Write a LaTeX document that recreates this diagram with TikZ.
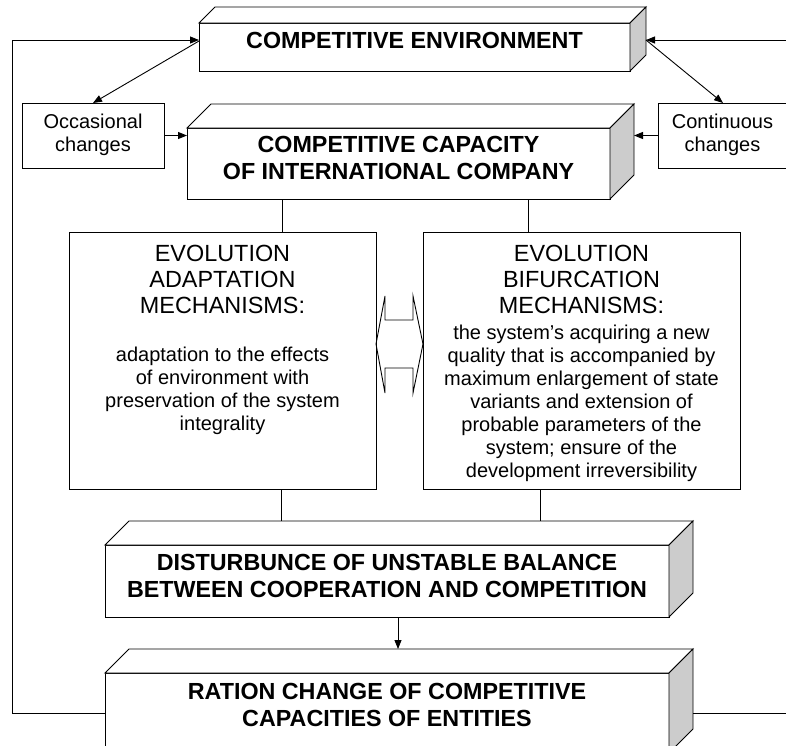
\documentclass[tikz,border=0pt]{standalone}
\usepackage{fontspec}
\setmainfont{Liberation Sans}
\usetikzlibrary{arrows.meta}

\newcommand*{\pw}{786}
\newcommand*{\ph}{745}

% top and side faces of a raised box, #1 = front node, #2 = depth
\newcommand*{\slab}[2]{%
	\draw[fill=white] (#1.north west) -- ++(#2,-#2) -- ([shift={(#2,-#2)}]#1.north east) -- (#1.north east) -- cycle;
	\draw[fill=gray!40] (#1.north east) -- ++(#2,-#2) -- ([shift={(#2,-#2)}]#1.south east) -- (#1.south east) -- cycle;
}

\begin{document}
\begin{tikzpicture}
[
	x=1pt,y=-1pt,
	line width=0.9pt,
	face/.style={draw,fill=white,inner sep=0pt,outer sep=0pt,anchor=north west},
	headtxt/.style={font={\fontsize{23.3}{27}\selectfont\bfseries},align=center,inner sep=0pt},
	evotitle/.style={font={\fontsize{23.4}{26}\selectfont},align=center,inner sep=0pt},
	evotext/.style={font={\fontsize{20}{23}\selectfont},align=center,inner sep=0pt},
	changetxt/.style={font={\fontsize{20}{22.5}\selectfont},align=center,inner sep=0pt},
	arr/.style={-{Triangle[length=9pt,width=7pt]}}
]

	\clip (0,0) rectangle (\pw,\ph);

	% boxes
	\node[face,minimum width=431pt,minimum height=48pt] (env) at (199,23) {};
	\node[face,minimum width=423pt,minimum height=71pt] (cap) at (187,128) {};
	\node[face,minimum width=142pt,minimum height=65pt] (occ) at (22,103) {};
	\node[face,minimum width=130pt,minimum height=65pt] (cont) at (658,103) {};
	\node[face,minimum width=307pt,minimum height=257pt] (adapt) at (69,232) {};
	\node[face,minimum width=317pt,minimum height=257pt] (bif) at (423,232) {};
	\node[face,minimum width=564pt,minimum height=72pt] (dist) at (105,545) {};
	\node[face,minimum width=564pt,minimum height=80pt] (ration) at (105,673) {};

	\slab{env}{16}
	\slab{cap}{24}
	\slab{dist}{24}
	\slab{ration}{24}

	% texts
	\node[headtxt] (envtxt) at (414.5,40) {COMPETITIVE ENVIRONMENT};
	\node[headtxt] (captxt) at (398.5,157.5) {COMPETITIVE CAPACITY\\OF INTERNATIONAL COMPANY};
	\node[changetxt] (occtxt) at (93,135) {Occasional\\changes};
	\node[changetxt] (conttxt) at (722.5,135) {Continuous\\changes};
	\node[evotitle] (adapttitle) at (222.5,279.5) {EVOLUTION\\ADAPTATION\\MECHANISMS:};
	\node[evotext] (adapttxt) at (222.5,391) {adaptation to the effects\\of environment with\\preservation of the system\\integrality};
	\node[evotitle] (biftitle) at (581.5,279) {EVOLUTION\\BIFURCATION\\MECHANISMS:};
	\node[evotext] (biftxt) at (581.5,403) {the system’s acquiring a new\\quality that is accompanied by\\maximum enlargement of state\\variants and extension of\\probable parameters of the\\system; ensure of the\\development irreversibility};
	\node[headtxt] (disttxt) at (387,576) {DISTURBUNCE OF UNSTABLE BALANCE\\BETWEEN COOPERATION AND COMPETITION};
	\node[headtxt] (rationtxt) at (387,705) {RATION CHANGE OF COMPETITIVE\\CAPACITIES OF ENTITIES};

	% feedback loops
	\draw[arr] (ration.west) -| (12,40) -- ([yshift=7pt]env.west);
	\draw[arr] ([xshift=24pt]ration.east) -| (786,40) -- ([shift={(16,-7)}]env.east);

	% changes
	\draw[arr] ([yshift=6pt]env.west) -- (occ.north);
	\draw[arr] ([shift={(16,-7)}]env.east) -- (cont.north);
	\coordinate (capside) at ([xshift=24pt]cap.east);
	\draw[arr] (occ.east) -- (occ.east -| cap.west);
	\draw[arr] (cont.west) -- (cont.west -| capside);

	% links down
	\coordinate (cl) at (282,0);
	\coordinate (cr) at (528,0);
	\coordinate (dl) at (281,0);
	\coordinate (dr) at (540,0);
	\coordinate (mid) at (398,0);
	\coordinate (disttop) at ([yshift=24pt]dist.north);
	\coordinate (rationtop) at ([yshift=24pt]ration.north);
	\draw (cap.south -| cl) -- (adapt.north -| cl);
	\draw (cap.south -| cr) -- (bif.north -| cr);
	\draw (adapt.south -| dl) -- (disttop -| dl);
	\draw (bif.south -| dr) -- (disttop -| dr);
	\draw[arr] (dist.south -| mid) -- (rationtop -| mid);

	% two-way arrow between the mechanisms
	\draw (376,344) -- ++(9,-48) -- ++(0,24) -- ++(28,0) -- ++(0,-24) -- ++(10,48)
		-- ++(-10,49) -- ++(0,-25) -- ++(-28,0) -- ++(0,25) -- cycle;

\end{tikzpicture}
\end{document}
